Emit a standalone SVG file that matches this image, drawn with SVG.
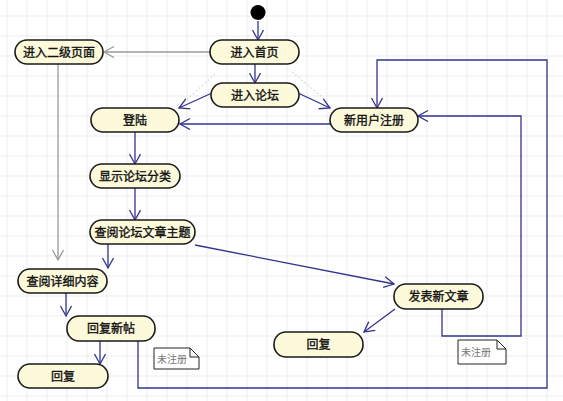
<svg xmlns="http://www.w3.org/2000/svg" width="563" height="401" viewBox="0 0 563 401">
<defs>
<pattern id="grid" x="6.5" y="15.5" width="20" height="20" patternUnits="userSpaceOnUse">
<path d="M0,0 L20,0 M0,0 L0,20" fill="none" stroke="#dadada" stroke-width="1"/>
</pattern>
<marker id="arr" markerWidth="14" markerHeight="14" refX="11" refY="6" orient="auto" markerUnits="userSpaceOnUse">
<path d="M1,0.5 L11,6 L1,11.5" fill="none" stroke="#33338f" stroke-width="1.3"/>
</marker>
<marker id="arrg" markerWidth="14" markerHeight="14" refX="11" refY="6" orient="auto" markerUnits="userSpaceOnUse">
<path d="M1,0.5 L11,6 L1,11.5" fill="none" stroke="#9a9a9a" stroke-width="1.3"/>
</marker>
</defs>
<style>
.n rect{fill:#fcfadb;stroke:#1a1a1a;stroke-width:1.6}
.n text{font-family:"Noto Sans CJK SC","Liberation Sans",sans-serif;font-size:12px;font-weight:normal;stroke:#111;stroke-width:0.35;fill:#111;text-anchor:middle}
.c{fill:none;stroke:#33338f;stroke-width:1.3}
.g{fill:none;stroke:#9a9a9a;stroke-width:1.3}
.f{fill:none;stroke:#dcdcea;stroke-width:1.2;stroke-dasharray:2,2}
.note path{fill:#fff;stroke:#222;stroke-width:1}
.note text{font-family:"Noto Sans CJK SC","Liberation Sans",sans-serif;font-size:10px;fill:#777}
</style>
<rect width="563" height="401" fill="#fff"/>
<rect width="563" height="401" fill="url(#grid)"/>

<g id="connectors">
<path class="f" d="M215,74 L182,104"/>
<path class="f" d="M292,72 L328,102"/>
<path class="c" d="M258,21 L258,40" marker-end="url(#arr)"/>
<path class="g" d="M210,52 L104,52" marker-end="url(#arrg)"/>
<path class="c" d="M255,64 L255,83" marker-end="url(#arr)"/>
<path class="c" d="M212,93 L179,108" marker-end="url(#arr)"/>
<path class="c" d="M298,93 L330,108" marker-end="url(#arr)"/>
<path class="c" d="M330,124 L180,124" marker-end="url(#arr)"/>
<path class="c" d="M135,132 L135,164" marker-end="url(#arr)"/>
<path class="c" d="M135,188 L135,220" marker-end="url(#arr)"/>
<path class="g" d="M58,64 L58,260" marker-end="url(#arrg)"/>
<path class="c" d="M108,244 L108,268" marker-end="url(#arr)"/>
<path class="c" d="M195,245 L394,284" marker-end="url(#arr)"/>
<path class="c" d="M66,293 L66,316" marker-end="url(#arr)"/>
<path class="c" d="M100,341 L100,364" marker-end="url(#arr)"/>
<path class="c" d="M138,341 L138,388 L547,388 L547,60 L377,60 L377,108" marker-end="url(#arr)"/>
<path class="c" d="M442,309 L442,336 L521,336 L521,116 L418,116" marker-end="url(#arr)"/>
<path class="c" d="M395,309 L364,332" marker-end="url(#arr)"/>
</g>

<g id="start"><circle cx="258" cy="12.5" r="7.5" fill="#000"/></g>

<g id="n-home" class="n"><rect x="210" y="40" width="89" height="24" rx="12"/><text x="254.5" y="56.5">进入首页</text></g>
<g id="n-second" class="n"><rect x="15" y="40" width="88" height="24" rx="12"/><text x="59" y="56.5">进入二级页面</text></g>
<g id="n-forum" class="n"><rect x="211" y="83" width="88" height="24" rx="12"/><text x="255" y="99.5">进入论坛</text></g>
<g id="n-login" class="n"><rect x="91" y="108" width="88" height="24" rx="12"/><text x="135" y="124.5">登陆</text></g>
<g id="n-register" class="n"><rect x="330" y="108" width="88" height="24" rx="12"/><text x="374" y="124.5">新用户注册</text></g>
<g id="n-category" class="n"><rect x="90" y="164" width="90" height="24" rx="12"/><text x="135" y="180.5">显示论坛分类</text></g>
<g id="n-topics" class="n"><rect x="90" y="220" width="105" height="24" rx="12"/><text x="142.5" y="236.5">查阅论坛文章主题</text></g>
<g id="n-detail" class="n"><rect x="18" y="269" width="89" height="24" rx="12"/><text x="62.5" y="285.5">查阅详细内容</text></g>
<g id="n-replynew" class="n"><rect x="67" y="316" width="88" height="25" rx="12"/><text x="111" y="333">回复新帖</text></g>
<g id="n-reply1" class="n"><rect x="18" y="364" width="90" height="24" rx="12"/><text x="63" y="380.5">回复</text></g>
<g id="n-post" class="n"><rect x="394" y="284" width="89" height="25" rx="12"/><text x="438.5" y="301">发表新文章</text></g>
<g id="n-reply2" class="n"><rect x="274" y="332" width="89" height="25" rx="12"/><text x="318.5" y="349">回复</text></g>

<g id="note1" class="note"><path d="M154,348 L190,348 L199,357 L199,369 L154,369 Z M190,348 L190,357 L199,357"/><text x="157" y="363">未注册</text></g>
<g id="note2" class="note"><path d="M458,340 L497,340 L506,349 L506,364 L458,364 Z M497,340 L497,349 L506,349"/><text x="461" y="356">未注册</text></g>
</svg>
